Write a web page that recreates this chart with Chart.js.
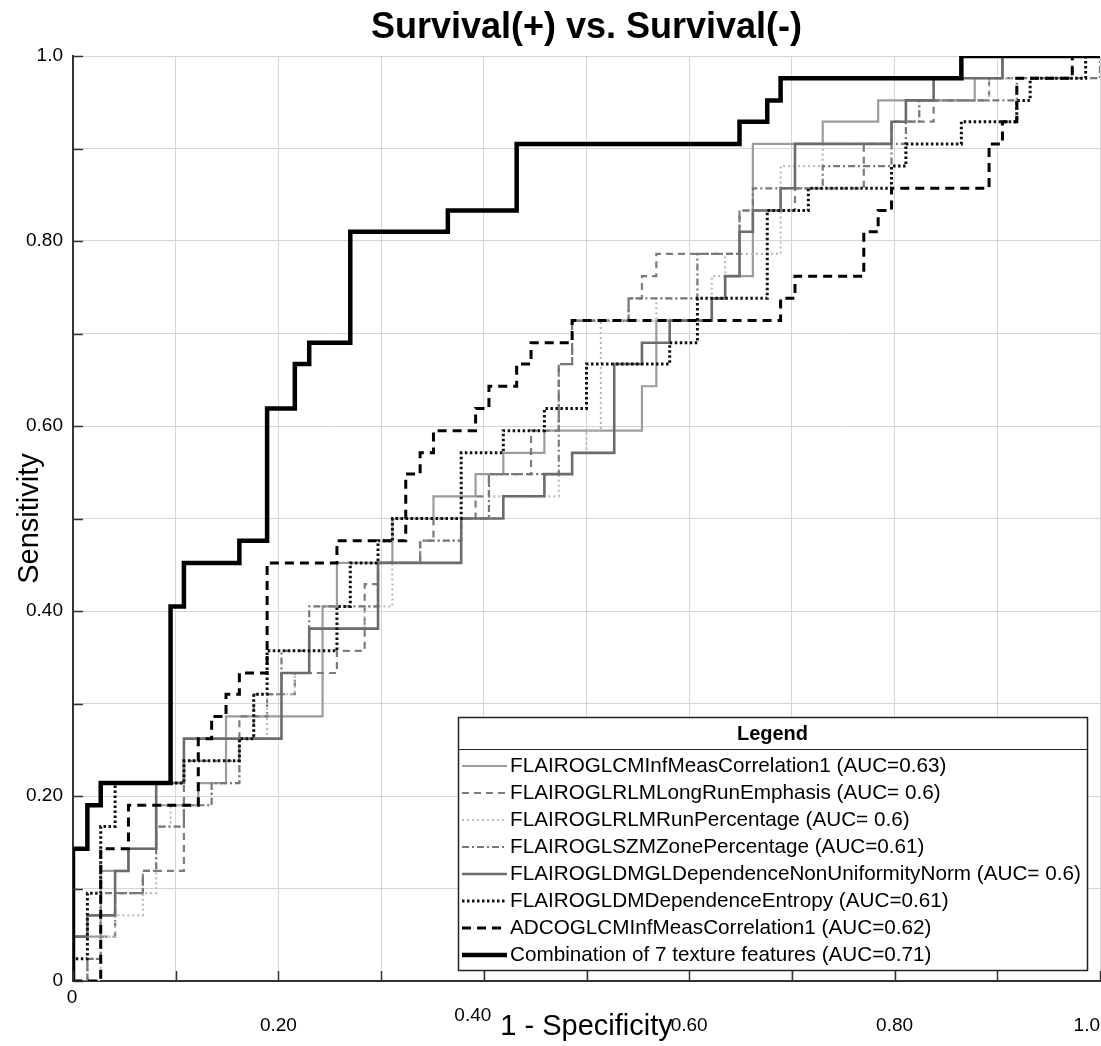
<!DOCTYPE html>
<html>
<head>
<meta charset="utf-8">
<title>Survival(+) vs. Survival(-)</title>
<script src="https://cdn.jsdelivr.net/npm/chart.js@4.4.1/dist/chart.umd.min.js"></script>
<style>
html, body { margin: 0; padding: 0; background: #ffffff; }
#wrap { width: 1101px; height: 1046px; }
canvas { display: block; }
</style>
</head>
<body>
<div id="wrap"><canvas id="roc" width="1101" height="1046"></canvas></div>
<script>
// ---------------- data ----------------
const seriesLabels = [
  'FLAIROGLCMInfMeasCorrelation1 (AUC=0.63)',
  'FLAIROGLRLMLongRunEmphasis (AUC= 0.6)',
  'FLAIROGLRLMRunPercentage (AUC= 0.6)',
  'FLAIROGLSZMZonePercentage (AUC=0.61)',
  'FLAIROGLDMGLDependenceNonUniformityNorm (AUC= 0.6)',
  'FLAIROGLDMDependenceEntropy (AUC=0.61)',
  'ADCOGLCMInfMeasCorrelation1 (AUC=0.62)',
  'Combination of 7 texture features (AUC=0.71)'
];

// FLAIROGLCMInfMeasCorrelation1
const fprGlcmCorr = [0, 0, 0.027, 0.054, 0.081, 0.122, 0.149, 0.243, 0.257, 0.311, 0.351, 0.392, 0.419, 0.459, 0.554, 0.568, 0.622, 0.635, 0.662, 0.730, 0.784, 0.878, 0.905, 1];
const tprGlcmCorr = [0, 0.048, 0.119, 0.143, 0.190, 0.214, 0.286, 0.405, 0.452, 0.500, 0.524, 0.548, 0.571, 0.595, 0.643, 0.714, 0.738, 0.762, 0.905, 0.929, 0.952, 0.976, 1, 1];

// FLAIROGLRLMLongRunEmphasis
const fprLongRun = [0, 0.014, 0.027, 0.041, 0.068, 0.108, 0.162, 0.189, 0.216, 0.257, 0.284, 0.297, 0.338, 0.351, 0.392, 0.405, 0.446, 0.473, 0.486, 0.541, 0.554, 0.568, 0.649, 0.703, 0.770, 0.797, 0.838, 0.892, 0.973, 1];
const tprLongRun = [0, 0.024, 0.048, 0.095, 0.119, 0.238, 0.286, 0.310, 0.333, 0.357, 0.429, 0.452, 0.476, 0.500, 0.524, 0.548, 0.595, 0.667, 0.714, 0.738, 0.762, 0.786, 0.833, 0.857, 0.905, 0.929, 0.952, 0.976, 1, 1];

// FLAIROGLRLMRunPercentage
const fprRunPct = [0, 0.027, 0.041, 0.068, 0.081, 0.095, 0.135, 0.162, 0.189, 0.216, 0.230, 0.284, 0.311, 0.338, 0.378, 0.405, 0.473, 0.486, 0.500, 0.514, 0.568, 0.622, 0.635, 0.689, 0.730, 0.797, 0.824, 0.892, 1];
const tprRunPct = [0, 0.048, 0.071, 0.095, 0.167, 0.190, 0.214, 0.262, 0.310, 0.333, 0.381, 0.405, 0.452, 0.476, 0.500, 0.524, 0.548, 0.571, 0.595, 0.714, 0.738, 0.762, 0.786, 0.881, 0.905, 0.929, 0.952, 0.976, 1];

// FLAIROGLSZMZonePercentage
const fprZonePct = [0, 0.014, 0.027, 0.068, 0.081, 0.108, 0.135, 0.162, 0.176, 0.203, 0.230, 0.297, 0.338, 0.378, 0.405, 0.473, 0.486, 0.541, 0.608, 0.649, 0.662, 0.730, 0.797, 0.811, 0.824, 0.919, 1];
const tprZonePct = [0, 0.024, 0.095, 0.119, 0.167, 0.190, 0.214, 0.262, 0.310, 0.357, 0.405, 0.452, 0.476, 0.500, 0.548, 0.667, 0.714, 0.738, 0.786, 0.833, 0.857, 0.881, 0.905, 0.929, 0.952, 0.976, 1];

// FLAIROGLDMGLDependenceNonUniformityNorm
const fprGlNonUni = [0, 0, 0.014, 0.041, 0.054, 0.081, 0.108, 0.203, 0.230, 0.297, 0.378, 0.419, 0.459, 0.486, 0.527, 0.554, 0.581, 0.622, 0.635, 0.649, 0.662, 0.689, 0.703, 0.797, 0.811, 0.838, 0.905, 1];
const tprGlNonUni = [0, 0.048, 0.071, 0.119, 0.143, 0.214, 0.262, 0.333, 0.381, 0.452, 0.500, 0.524, 0.548, 0.571, 0.667, 0.690, 0.714, 0.738, 0.762, 0.810, 0.833, 0.857, 0.905, 0.929, 0.952, 0.976, 1, 1];

// FLAIROGLDMDependenceEntropy
const fprDepEntropy = [0, 0, 0.014, 0.027, 0.041, 0.108, 0.162, 0.176, 0.189, 0.257, 0.270, 0.297, 0.311, 0.378, 0.419, 0.459, 0.500, 0.581, 0.608, 0.676, 0.716, 0.797, 0.811, 0.865, 0.919, 0.932, 0.986, 1];
const tprDepEntropy = [0, 0.024, 0.095, 0.167, 0.214, 0.238, 0.262, 0.310, 0.357, 0.405, 0.452, 0.476, 0.500, 0.571, 0.595, 0.619, 0.667, 0.690, 0.738, 0.833, 0.857, 0.881, 0.905, 0.929, 0.952, 0.976, 1, 1];

// ADCOGLCMInfMeasCorrelation1
const fprAdcCorr = [0, 0.027, 0.054, 0.122, 0.135, 0.149, 0.162, 0.189, 0.257, 0.324, 0.338, 0.351, 0.392, 0.405, 0.432, 0.446, 0.486, 0.689, 0.703, 0.770, 0.784, 0.797, 0.892, 0.905, 0.919, 0.973, 1];
const tprAdcCorr = [0, 0.143, 0.190, 0.262, 0.286, 0.310, 0.333, 0.452, 0.476, 0.548, 0.571, 0.595, 0.619, 0.643, 0.667, 0.690, 0.714, 0.738, 0.762, 0.810, 0.833, 0.857, 0.905, 0.929, 0.976, 1, 1];

// Combination of 7 texture features
const fprCombo = [0, 0, 0.014, 0.027, 0.095, 0.108, 0.162, 0.189, 0.216, 0.230, 0.270, 0.365, 0.432, 0.649, 0.676, 0.689, 0.865, 1];
const tprCombo = [0, 0.143, 0.190, 0.214, 0.405, 0.452, 0.476, 0.619, 0.667, 0.690, 0.810, 0.833, 0.905, 0.929, 0.952, 0.976, 1, 1];

// tick labels
const xTickValues = [0, 0.2, 0.4, 0.6, 0.8, 1.0];
const xTickLabels = ['0', '0.20', '0.40', '0.60', '0.80', '1.0'];
const yTickValues = [0, 0.2, 0.4, 0.6, 0.8, 1.0];
const yTickLabels = ['0', '0.20', '0.40', '0.60', '0.80', '1.0'];
// x labels that sit off the regular label row in the reference (drawn by the decor plugin)
const xShiftedTickValues = [0, 0.4];

// ---------------- styles ----------------
const FONT = '"Liberation Sans", Arial, Helvetica, sans-serif';
const seriesStyles = [
  { color: '#9c9c9c', width: 2.2, dash: [] },
  { color: '#7c7c7c', width: 2.2, dash: [7, 5] },
  { color: '#bcbcbc', width: 2.2, dash: [2, 3] },
  { color: '#787878', width: 2.2, dash: [7, 3, 2, 3] },
  { color: '#6c6c6c', width: 2.6, dash: [] },
  { color: '#111111', width: 3, dash: [2.5, 2.5] },
  { color: '#000000', width: 3, dash: [9, 6] },
  { color: '#000000', width: 4.5, dash: [] }
];
const seriesX = [fprGlcmCorr, fprLongRun, fprRunPct, fprZonePct, fprGlNonUni, fprDepEntropy, fprAdcCorr, fprCombo];
const seriesY = [tprGlcmCorr, tprLongRun, tprRunPct, tprZonePct, tprGlNonUni, tprDepEntropy, tprAdcCorr, tprCombo];

const datasets = seriesLabels.map((label, i) => ({
  label,
  data: seriesX[i].map((x, k) => ({ x, y: seriesY[i][k] })),
  borderColor: seriesStyles[i].color,
  borderWidth: seriesStyles[i].width,
  borderDash: seriesStyles[i].dash,
  borderCapStyle: 'butt',
  borderJoinStyle: 'miter',
  stepped: 'before',
  fill: false,
  pointRadius: 0,
  pointHoverRadius: 0,
  tension: 0,
  order: seriesLabels.length - i
}));

function findIdx(values, v) {
  return values.findIndex(t => Math.abs(t - v) < 1e-6);
}
function xLabel(v) {
  if (xShiftedTickValues.some(t => Math.abs(t - v) < 1e-6)) return '';
  const idx = findIdx(xTickValues, v);
  return idx >= 0 ? xTickLabels[idx] : '';
}
function yLabel(v) {
  const idx = findIdx(yTickValues, v);
  return idx >= 0 ? yTickLabels[idx] : '';
}

const decorPlugin = {
  id: 'rocDecor',
  afterDraw(chart) {
    const { ctx, chartArea: a, scales } = chart;
    const xs = scales.x, ys = scales.y;
    ctx.save();
    // inward tick marks every 0.1
    ctx.setLineDash([]);
    ctx.strokeStyle = '#333333';
    ctx.lineWidth = 1.5;
    for (let i = 0; i <= 10; i++) {
      const px = Math.round(xs.getPixelForValue(i / 10)) + 0.5;
      const py = Math.round(ys.getPixelForValue(i / 10)) + 0.5;
      ctx.beginPath(); ctx.moveTo(a.left, py); ctx.lineTo(a.left + 10, py); ctx.stroke();
      ctx.beginPath(); ctx.moveTo(px, a.bottom); ctx.lineTo(px, a.bottom - 10); ctx.stroke();
    }
    // x labels placed off the regular row ("0" and "0.40")
    ctx.fillStyle = '#000';
    ctx.font = '19px ' + FONT;
    ctx.textAlign = 'center';
    ctx.textBaseline = 'middle';
    const zeroIdx = findIdx(xTickValues, xShiftedTickValues[0]);
    ctx.fillText(xTickLabels[zeroIdx], xs.getPixelForValue(xShiftedTickValues[0]) - 1, a.bottom + 17);
    const fortyIdx = findIdx(xTickValues, xShiftedTickValues[1]);
    ctx.fillText(xTickLabels[fortyIdx], xs.getPixelForValue(xShiftedTickValues[1]) - 11, a.bottom + 35);

    // legend box
    const L = { left: 458, top: 717, right: 1087, bottom: 970 };
    ctx.fillStyle = '#ffffff';
    ctx.fillRect(L.left, L.top, L.right - L.left, L.bottom - L.top);
    ctx.strokeStyle = '#222222';
    ctx.lineWidth = 1.5;
    ctx.strokeRect(L.left + 0.5, L.top + 0.5, L.right - L.left, L.bottom - L.top);
    ctx.fillStyle = '#000';
    ctx.font = 'bold 20px ' + FONT;
    ctx.textAlign = 'center';
    ctx.fillText('Legend', (L.left + L.right) / 2, 734);
    ctx.beginPath(); ctx.moveTo(L.left, 749.5); ctx.lineTo(L.right, 749.5); ctx.lineWidth = 1.2; ctx.stroke();
    ctx.font = '20.7px ' + FONT;
    ctx.textAlign = 'left';
    seriesLabels.forEach((lab, i) => {
      const yy = 766 + 27 * i;
      const st = seriesStyles[i];
      ctx.strokeStyle = st.color;
      ctx.lineWidth = st.width;
      ctx.setLineDash(st.dash);
      ctx.lineCap = 'butt';
      ctx.beginPath(); ctx.moveTo(L.left + 4, yy); ctx.lineTo(L.left + 49, yy); ctx.stroke();
      ctx.setLineDash([]);
      ctx.fillStyle = '#000';
      ctx.fillText(lab, L.left + 52, yy);
    });
    ctx.restore();
  }
};

new Chart(document.getElementById('roc'), {
  type: 'line',
  data: { datasets },
  plugins: [decorPlugin],
  options: {
    responsive: false,
    animation: false,
    devicePixelRatio: 1,
    layout: { padding: { left: 0, right: 1, top: 0, bottom: 0 } },
    plugins: {
      legend: { display: false },
      tooltip: { enabled: false },
      title: {
        display: true,
        fullSize: false,
        text: 'Survival(+) vs. Survival(-)',
        color: '#000',
        font: { family: FONT, size: 36, weight: 'bold', lineHeight: 1 },
        padding: { top: 10, bottom: 10 }
      }
    },
    scales: {
      x: {
        type: 'linear',
        min: 0, max: 1,
        ticks: {
          stepSize: 0.1, autoSkip: false, maxRotation: 0, minRotation: 0,
          align: 'inner', padding: 0, color: '#000',
          font: { family: FONT, size: 19 },
          callback: xLabel
        },
        grid: { color: '#d6d6d6', lineWidth: 1, drawTicks: true, tickLength: 33, tickColor: 'rgba(0,0,0,0)' },
        border: { display: true, color: '#333333', width: 2 },
        title: {
          display: true, text: '1 - Specificity', color: '#000',
          font: { family: FONT, size: 29 }, padding: { top: 0, bottom: 2 }
        },
        afterFit: (s) => { s.height = 65; }
      },
      y: {
        type: 'linear',
        min: 0, max: 1,
        ticks: {
          stepSize: 0.1, autoSkip: false, padding: 10, color: '#000',
          font: { family: FONT, size: 19 },
          callback: yLabel
        },
        grid: { color: '#d6d6d6', lineWidth: 1, drawTicks: false },
        border: { display: true, color: '#333333', width: 2 },
        title: {
          display: true, text: 'Sensitivity', color: '#000',
          font: { family: FONT, size: 29 }, padding: { top: 13, bottom: 0 }
        },
        afterFit: (s) => { s.width = 73; }
      }
    }
  }
});
</script>
</body>
</html>
